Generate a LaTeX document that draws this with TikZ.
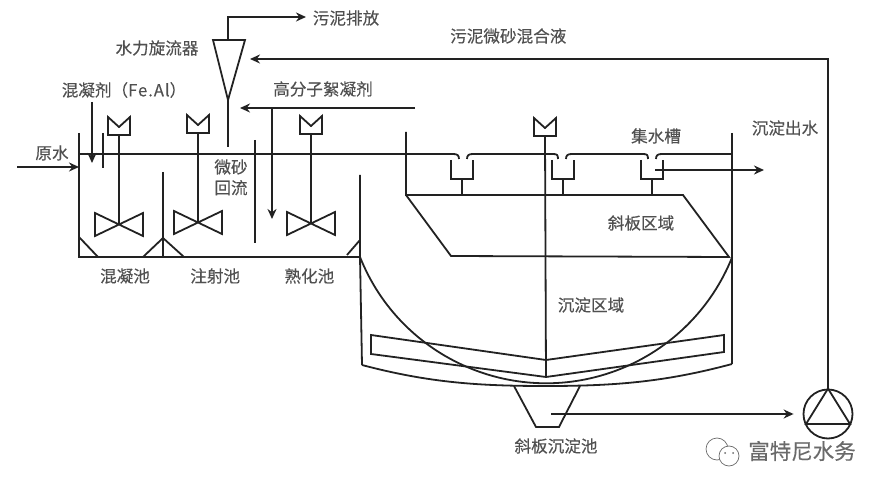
\documentclass[tikz,border=0pt]{standalone}
\usepackage{fontspec}
\usepackage{xcolor}
\newfontfamily\cjk[FakeBold=0.25]{Noto Sans CJK SC}
\usetikzlibrary{arrows.meta}
\usetikzlibrary{positioning}
\usetikzlibrary{calc}
\definecolor{inkline}{HTML}{222222}
\definecolor{inktext}{HTML}{505050}
\definecolor{inkmark}{HTML}{6A6A6A}
\tikzset{
	pipe/.style={draw=inkline,line width=1.8pt},
	flow/.style={pipe,-{Stealth[length=10pt,width=9pt]}},
	motor/.pic={\draw[pipe] (-11,0) -- (-11,18) -- (11,18) -- (11,0) -- (0,10) -- cycle;},
	mixer/.pic={
		\draw[pipe] (-11,0) -- (-11,18) -- (11,18) -- (11,0) -- (0,10) -- cycle;
		\draw[pipe] (0,18) -- (0,107);
		\draw[pipe] (-24,96) -- (24,119) -- (24,96) -- (-24,119) -- cycle;
	},
	trough/.pic={
		\draw[pipe] (-11,-35) -- (-11,-16) -- (11,-16) -- (11,-35);
		\draw[pipe] (0,-16) -- (0,0);
	}
}

\begin{document}
\begin{tikzpicture}[x=1pt,y=-1pt]
			\tikzstyle{every node}=[font=\cjk\fontsize{16.6}{16.6}\selectfont,text=inktext,inner sep=0pt]
			\useasboundingbox (0,0) rectangle (884,489);

			\node (sludgeout) at (346,18) {污泥排放};
			\node (cyclonelbl) at (157,48) {水力旋流器};
			\node (coaglbl) at (124,90) {混凝剂（{\addfontfeature{LetterSpace=6}Fe.Al}）};
			\node (polylbl) at (323,89) {高分子絮凝剂};
			\node (mixlbl) at (450,36) [anchor=west] {污泥微砂混合液};
			\node (rawlbl) at (52,153) {原水};
			\node (sandlbl) at (231,167) {微砂};
			\node (backlbl) [below=5pt of sandlbl] {回流};
			\node (coagtank) at (125,276) {混凝池};
			\node (injtank) [right=40pt of coagtank] {注射池};
			\node (agetank) [right=44pt of injtank] {熟化池};
			\node (troughlbl) at (656,136) {集水槽};
			\node (outlbl) at (785,128) {沉淀出水};
			\node (platelbl) at (641,223) {斜板区域};
			\node (settlelbl) at (591,305) {沉淀区域};
			\node (basinlbl) at (556,446) {斜板沉淀池};
			\node (brand) at (802,451) [text=inkmark,font=\cjk\fontsize{21.5}{21.5}\selectfont] {富特尼水务};

			\node (pump) at (828,414) [pipe,circle,minimum size=49pt] {};
			\draw[pipe] (pump.90) -- ($(pump.center)+(-22,10)$) -- ($(pump.center)+(22,10)$) -- cycle;

			\coordinate (cyca) at (213,40);
			\coordinate (cycb) at (245,40);
			\coordinate (cyctip) at (228,100);
			\coordinate (cyctop) at (228,40);
			\coordinate (sludgeend) at (306,17);
			\coordinate (sandend) at (228,147);
			\coordinate (cycin) at (250,59);
			\coordinate (returnbend) at (828,59);
			\coordinate (rawin) at (17,167);
			\coordinate (rawend) at (79,167);
			\coordinate (coagtop) at (92,102);
			\coordinate (coagend) at (92,163);
			\coordinate (polyr) at (415,108);
			\coordinate (polyl) at (240,108);
			\coordinate (polyj) at (272,108);
			\coordinate (polyd) at (272,219);
			\coordinate (overin) at (655,170);
			\coordinate (overend) at (764,170);
			\coordinate (hopperin) at (551,414);

			\draw[pipe] (cyca) -- (cycb) -- (cyctip) -- cycle;
			\draw[pipe] (cyctip) -- (sandend);
			\draw[flow] (cyctop) |- (sludgeend);
			\draw[flow] (pump) -- (returnbend) -- (cycin);
			\draw[flow] (rawin) -- (rawend);
			\draw[flow] (coagtop) -- (coagend);
			\draw[flow] (polyr) -- (polyl);
			\draw[flow] (polyj) -- (polyd);
			\draw[flow] (overin) -- (overend);
			\draw[flow,shorten >=9pt] (hopperin) -- (pump);

			\draw[pipe] (79,133) -- (79,257) -- (360,257);
			\draw[pipe] (103,133) -- (103,168);
			\draw[pipe] (163,172) -- (163,257);
			\draw[pipe] (255,140) -- (255,243);
			\draw[pipe] (360,175) -- (360,257) -- (362,365);
			\draw[pipe] (79,237) -- (98,257);
			\draw[pipe] (143,257) -- (163,238) -- (184,257);
			\draw[pipe] (347,255) -- (360,240);

			\pic at (119,117) {mixer};
			\pic at (198,115) {mixer};
			\pic at (311,116) {mixer};
			\pic at (545,118) {motor};
			\pic at (462,195) {trough};
			\pic at (563,195) {trough};
			\pic at (652,195) {trough};

			\draw[pipe] (79,154) -- (453,154) .. controls (457,154) and (459,155) .. (459,159);
			\draw[pipe] (467,159) .. controls (467,155) and (469,154) .. (473,154) -- (553,154) .. controls (557,154) and (558,155) .. (558,159);
			\draw[pipe] (566,159) .. controls (566,155) and (568,154) .. (572,154) -- (643,154) .. controls (647,154) and (648,155) .. (648,159);
			\draw[pipe] (656,159) .. controls (656,155) and (658,154) .. (662,154) -- (732,154);

			\draw[pipe] (406,132) -- (406,195) -- (683,195) -- (729,257) -- (451,256) -- (406,195);
			\draw[pipe] (732,133) -- (732,364);
			\draw[pipe] (545,136) -- (546,377);
			\draw[pipe] (360,257) arc[start angle=158.3,end angle=21.7,radius=200.3];
			\draw[pipe] (371,335) -- (546,360) -- (724,335) -- (724,352) -- (546,377) -- (371,354) -- cycle;
			\draw[pipe] (362,365) .. controls (430,383) and (480,386) .. (546,386) .. controls (615,386) and (665,382) .. (732,364);
			\draw[pipe] (514,386) -- (536,427) -- (559,427) -- (580,386);

			\draw[draw=inkmark,line width=0.7pt,fill=white] (717,449) circle (11);
			\draw[draw=inkmark,line width=0.7pt,fill=white] (729,456) circle (10);
			\fill[inkmark] (725,453) circle (1) (733,453) circle (1);
		\end{tikzpicture}
\end{document}
